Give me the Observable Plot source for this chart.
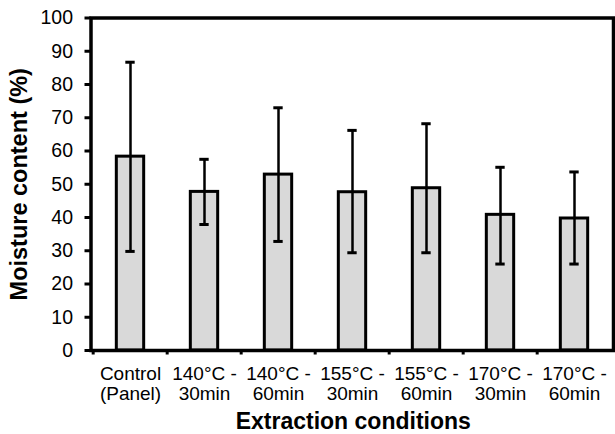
<!DOCTYPE html>
<html>
<head>
<meta charset="utf-8">
<script src="https://cdn.jsdelivr.net/npm/d3@7"></script>
<script src="https://cdn.jsdelivr.net/npm/@observablehq/plot@0.6"></script>
<style>
  html, body { margin: 0; padding: 0; background: #fff; overflow: hidden; }
  svg { display: block; }
</style>
</head>
<body>
<div id="chart"></div>
<script>
const categories = ["Control\n(Panel)", "140°C -\n30min", "140°C -\n60min", "155°C -\n30min", "155°C -\n60min", "170°C -\n30min", "170°C -\n60min"];
const moisture = [58.3, 47.7, 52.9, 47.6, 48.8, 40.8, 39.7];
const errorHigh = [86.7, 57.5, 73.0, 66.2, 68.2, 55.1, 53.7];
const errorLow = [29.8, 37.9, 32.8, 29.4, 29.4, 26.0, 26.0];
const yTicks = [0, 10, 20, 30, 40, 50, 60, 70, 80, 90, 100];
const yTitle = "Moisture content (%)";
const xTitle = "Extraction conditions";

const data = categories.map((c, i) => ({cat: c, value: moisture[i], hi: errorHigh[i], lo: errorLow[i]}));

const W = 615, H = 434;
const mL = 90.5, mR = 2, mT = 17.5, mB = 84;
const step = (W - mL - mR) / categories.length;

const chart = Plot.plot({
  width: W,
  height: H,
  marginLeft: mL,
  marginRight: mR,
  marginTop: mT,
  marginBottom: mB,
  style: {fontFamily: "'Liberation Sans', Arial, sans-serif", color: "#000", background: "#fff", overflow: "visible"},
  x: {domain: categories, padding: 0, axis: null},
  y: {domain: [0, 100], axis: null},
  marks: [
    Plot.barY(data, {x: "cat", y: "value", fill: "#d9d9d9", stroke: "#000", strokeWidth: 3, insetLeft: (step - 28) / 2, insetRight: (step - 28) / 2}),
    Plot.ruleX(data, {x: "cat", y1: "lo", y2: "hi", stroke: "#000", strokeWidth: 2.5}),
    Plot.tickY(data, {x: "cat", y: "hi", stroke: "#000", strokeWidth: 3, inset: (step - 10) / 2}),
    Plot.tickY(data, {x: "cat", y: "lo", stroke: "#000", strokeWidth: 3, inset: (step - 10) / 2}),
    Plot.axisY({ticks: yTicks, tickSize: 6, tickPadding: 12, fontSize: 19.5, strokeWidth: 3, label: null, tickFormat: d => String(d)}),
    Plot.axisX({tickSize: 4.5, strokeWidth: 3, dx: -step / 2, tickFormat: () => "", label: null}),
    Plot.text(categories, {x: d => d, text: d => d, frameAnchor: "bottom", lineAnchor: "top", dy: 15, fontSize: 19, lineHeight: 1.05, fill: "#000"}),
    Plot.text([xTitle], {text: d => d, frameAnchor: "bottom", lineAnchor: "top", dy: 62.5, dx: 1, fontSize: 23, fontWeight: "bold", fill: "#000"}),
    Plot.text([yTitle], {text: d => d, frameAnchor: "left", textAnchor: "middle", dx: -71.5, rotate: -90, lineAnchor: "middle", fontSize: 23.5, fontWeight: "bold", fill: "#000"}),
    Plot.frame({stroke: "#000", strokeWidth: 3.5})
  ]
});
document.getElementById("chart").appendChild(chart);
</script>
</body>
</html>
